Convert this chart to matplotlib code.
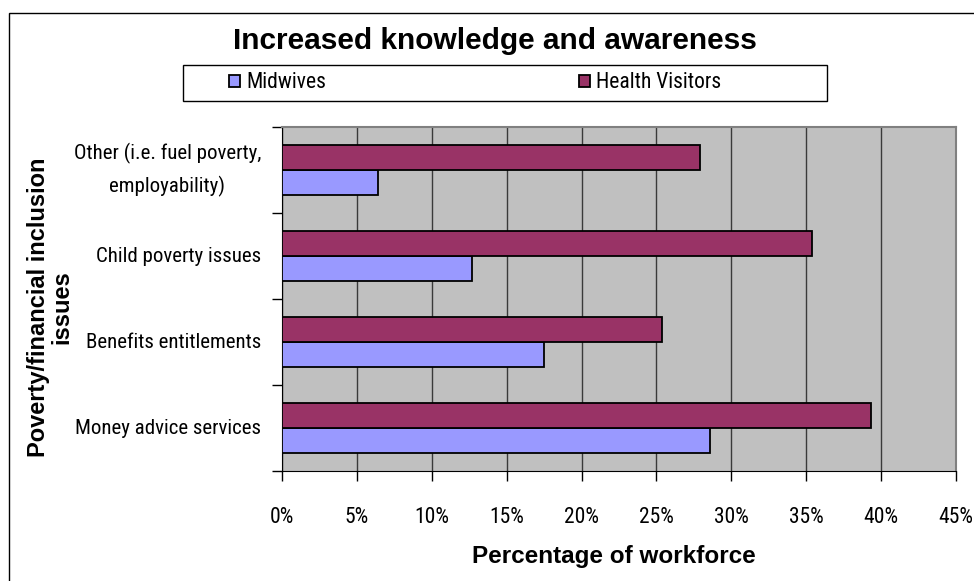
import matplotlib
matplotlib.use("Agg")
import matplotlib.pyplot as plt
from matplotlib import font_manager as fm
from matplotlib.patches import Rectangle
from matplotlib.ticker import FixedLocator, PercentFormatter
import numpy as np

categories = [
    "Money advice services",
    "Benefits entitlements",
    "Child poverty issues",
    "Other (i.e. fuel poverty,\nemployability)",
]
midwives = [28.6, 17.5, 12.7, 6.4]
health_visitors = [39.3, 25.4, 35.4, 27.9]
series_names = ["Midwives", "Health Visitors"]
x_ticks = [0, 5, 10, 15, 20, 25, 30, 35, 40, 45]

MW_COLOR = "#9999FF"
HV_COLOR = "#993366"
BOLD = ["Liberation Sans", "DejaVu Sans"]


def narrow_font():
    """Pick an installed condensed sans face for the regular labels."""
    prefs = ["Liberation Sans Narrow", "Roboto Condensed", "Open Sans Condensed",
             "DejaVu Sans Condensed", "Noto Sans Condensed"]
    faces = fm.fontManager.ttflist
    for name in prefs:
        for f in faces:
            if f.name == name and f.style == "normal" and f.weight in (400, "normal", "regular"):
                return fm.FontProperties(fname=f.fname)
    for f in faces:
        if (f.stretch in ("condensed", "semi-condensed") and f.style == "normal"
                and f.weight in (400, "normal", "regular") and "Sans" in f.name
                and "Mono" not in f.name):
            return fm.FontProperties(fname=f.fname)
    return None


nfp = narrow_font()
if nfp is None:
    nfp = fm.FontProperties(family=["Liberation Sans", "DejaVu Sans"])
    scale = 0.86
else:
    scale = 1.0
plt.rcParams["font.family"] = BOLD

W, H = 974, 581
fig = plt.figure(figsize=(W / 100, H / 100), dpi=100)

# outer chart border
fig.add_artist(Rectangle((9 / W, -0.01), 1.0, 1 - 13 / H + 0.01,
                         transform=fig.transFigure, fill=False,
                         edgecolor="black", linewidth=1.0))

ax = fig.add_axes([282 / W, 1 - 471 / H, 674 / W, 344 / H])
ax.set_facecolor("#C0C0C0")

y = np.arange(len(categories))
h = 0.295
ax.barh(y - h / 2, midwives, height=h, color=MW_COLOR, edgecolor="black",
        linewidth=1.3, label=series_names[0], zorder=3)
ax.barh(y + h / 2, health_visitors, height=h, color=HV_COLOR, edgecolor="black",
        linewidth=1.3, label=series_names[1], zorder=3)

ax.set_xlim(0, 45)
ax.set_ylim(-0.5, len(categories) - 0.5)
ax.xaxis.set_major_locator(FixedLocator(x_ticks))
ax.xaxis.set_major_formatter(PercentFormatter(decimals=0))
ax.grid(axis="x", color="#3a3a3a", linewidth=1.0, zorder=1)
ax.set_axisbelow(True)

tick_size = 15.5 * scale
ax.set_yticks(y)
ax.set_yticklabels(categories)
for lab in ax.get_yticklabels():
    lab.set_fontproperties(nfp)
    lab.set_fontsize(15 * scale)
    lab.set_linespacing(1.75)
    lab.set_multialignment("center")
    lab.set_verticalalignment("center")
for lab in ax.get_xticklabels():
    lab.set_fontproperties(nfp)
    lab.set_fontsize(tick_size)
ax.yaxis.set_minor_locator(FixedLocator(np.arange(-0.5, len(categories), 1.0)))
ax.tick_params(axis="y", which="major", length=0, pad=15)
ax.tick_params(axis="y", which="minor", length=7, width=1.0, color="black")
ax.tick_params(axis="x", which="major", length=7, width=1.0, pad=19)

for side in ("top", "right"):
    ax.spines[side].set_color("#808080")
    ax.spines[side].set_linewidth(1.5)
ax.spines["left"].set_color("black")
ax.spines["bottom"].set_color("black")

fig.text(614 / W, 1 - 557 / H, "Percentage of workforce", ha="center",
         va="center", fontsize=17.5, fontweight="bold")
fig.text(50 / W, 1 - 307 / H, "Poverty/financial inclusion\nissues",
         rotation=90, ha="center", va="center", fontsize=17, fontweight="bold",
         linespacing=1.0)

fig.text(495 / W, 1 - 41 / H, "Increased knowledge and awareness",
         ha="center", va="center", fontsize=21.5, fontweight="bold")

# legend frame and entries
fig.add_artist(Rectangle((183 / W, 1 - 101 / H), 644 / W, 36 / H,
                         transform=fig.transFigure, fill=False,
                         edgecolor="black", linewidth=1.0))
handles, labels = ax.get_legend_handles_labels()
legend_font = nfp.copy()
legend_font.set_size(15.5 * scale)
for hnd, lab, x0 in zip(handles, labels, (229, 579)):
    fig.legend([hnd], [lab], loc="center left", bbox_to_anchor=(x0 / W, 1 - 83 / H),
               frameon=False, prop=legend_font, handlelength=0.5,
               handleheight=0.5, handletextpad=0.3, borderpad=0,
               borderaxespad=0)

fig.savefig("out.png", dpi=100)
